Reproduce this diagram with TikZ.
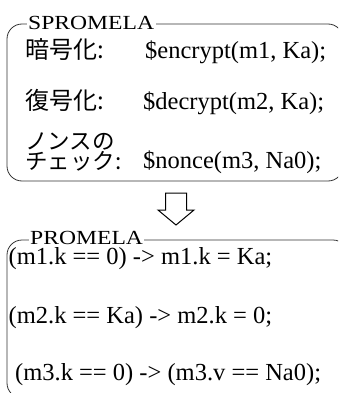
\documentclass[tikz,border=0pt]{standalone}
\usepackage{fontspec}
\setmainfont{Liberation Serif}
\newfontfamily\jp{Noto Sans CJK JP}
\newfontfamily\lblfont[FakeStretch=1.18]{Liberation Serif}
\begin{document}
\begin{tikzpicture}[x=1pt,y=-1pt,
  frame/.style={draw=black!80,line width=0.8pt,rounded corners=15pt},
  lbl/.style={fill=white,inner xsep=1.5pt,inner ysep=0pt,anchor=base west,font=\lblfont\fontsize{20}{20}\selectfont},
  code/.style={inner sep=0pt,anchor=base west,font=\fontsize{24.5}{25}\selectfont},
  jtxt/.style={inner sep=0pt,anchor=base west,font=\jp\fontsize{24}{25}\selectfont},
  jsmall/.style={inner sep=0pt,anchor=base west,font=\jp\fontsize{22.5}{20}\selectfont,align=left},
  bigarrow/.style={draw=black,line width=1pt,fill=white,line join=miter}]
\useasboundingbox (0,0) rectangle (338,393);
\clip (0,0) rectangle (338,393);
% top box
\draw[frame] (7,24) rectangle (343,181);
\node[lbl] (t1) at (26.5,29.5) {SPROMELA};
\node[jtxt] (a1) at (25,59) {暗号化:};
\node[code] (c1) at (145,59) {\$encrypt(m1, Ka);};
\node[jtxt] (a2) at (25,109.5) {復号化:};
\node[code] (c2) at (143,109.5) {\$decrypt(m2, Ka);};
\node[jsmall] (a3) at (25,149) {ノンスの};
\node[jsmall] (a4) at (25,169) {チェック:};
\node[code] (c3) at (143,168) {\$nonce(m3, Na0);};
% arrow
\draw[bigarrow] (165.5,193) -- (186.5,193) -- (186.5,210) -- (194,210) -- (176,225) -- (158,210) -- (165.5,210) -- cycle;
% bottom box
\draw[frame] (7,240) rectangle (348,398);
\node[lbl] (t2) at (28.5,244) {PROMELA};
\node[code] (p1) at (8.5,264.5) {(m1.k == 0) -> m1.k = Ka;};
\node[code] (p2) at (8.5,323.5) {(m2.k == Ka) -> m2.k = 0;};
\node[code] (p3) at (15,380) {(m3.k == 0) -> (m3.v == Na0);};
\end{tikzpicture}
\end{document}
